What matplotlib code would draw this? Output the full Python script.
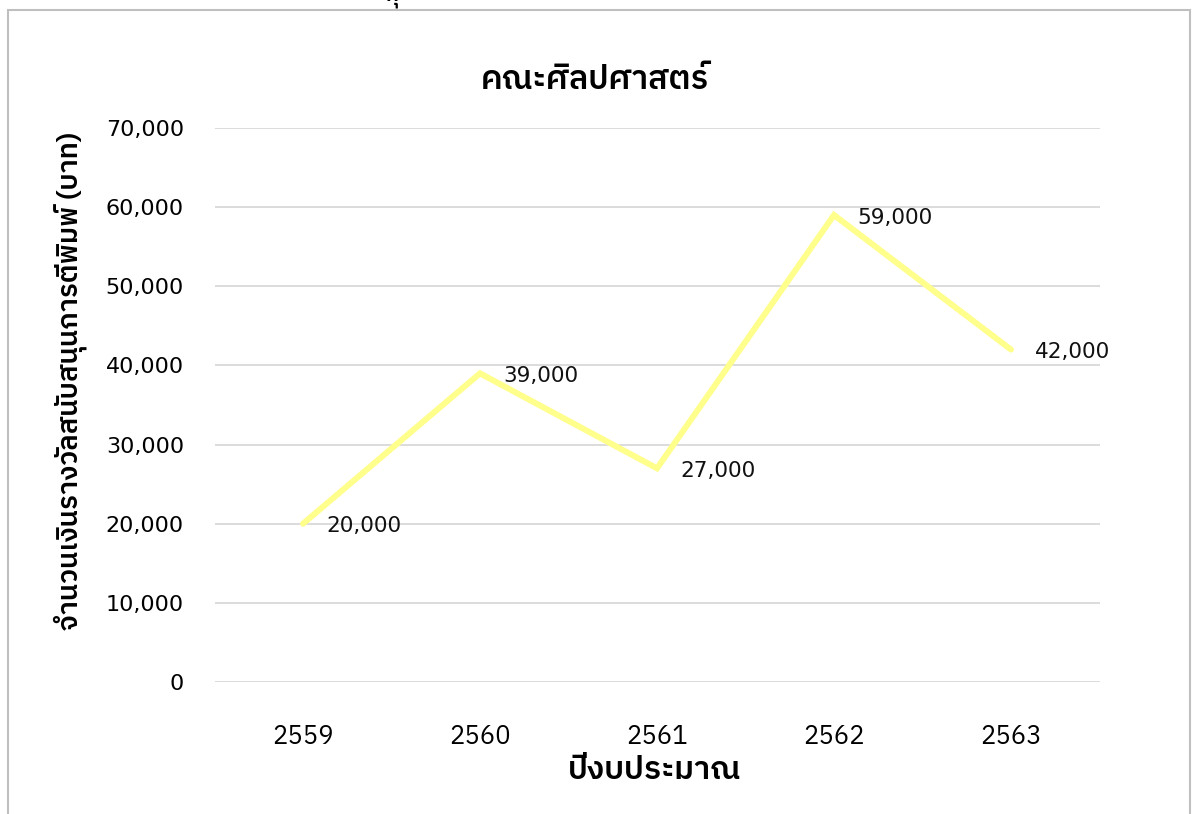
import matplotlib
matplotlib.use("Agg")
import matplotlib.pyplot as plt
from matplotlib.patches import Rectangle

years = ["2559", "2560", "2561", "2562", "2563"]
amounts = [20000, 39000, 27000, 59000, 42000]
yticks = [0, 10000, 20000, 30000, 40000, 50000, 60000, 70000]
title = "คณะศิลปศาสตร์"
xlabel = "ปีงบประมาณ"
ylabel = "จำนวนเงินรางวัลสนับสนุนการตีพิมพ์ (บาท)"

THAI = ["IBM Plex Sans Thai", "Noto Sans Thai", "DejaVu Sans"]
NUM = ["DejaVu Sans"]
plt.rcParams['font.family'] = THAI

fig = plt.figure(figsize=(12, 8.14), dpi=100)
ax = fig.add_axes([214.5 / 1200, 1 - 682 / 814, 885 / 1200, 554 / 814])

xs = list(range(len(years)))
ax.plot(xs, amounts, color="#FFFF8C", lw=4.3, solid_capstyle="round",
        solid_joinstyle="miter", zorder=3)
for x, v in zip(xs, amounts):
    ax.annotate(f"{v:,}", (x, v), xytext=(17, -2), textcoords="offset points",
                ha="left", va="center", fontsize=15.5, color="#111111", family=NUM)

ax.set_xlim(-0.5, len(years) - 0.5)
ax.set_ylim(0, 70000)
ax.set_yticks(yticks)
ax.set_yticklabels([f"{t:,}" for t in yticks], fontsize=16, family=NUM)
ax.set_xticks(xs)
ax.set_xticklabels(years, fontsize=18.5, family=THAI)
ax.tick_params(length=0, pad=22, axis="y")
ax.tick_params(length=0, pad=30, axis="x")
ax.grid(axis="y", color="#D9D9D9", lw=1.3)
ax.set_axisbelow(True)
for s in ax.spines.values():
    s.set_visible(False)

fig.text(595 / 1200, 1 - 80 / 814, title, ha="center", va="center",
         fontsize=23.5, fontweight="semibold")
fig.text(655 / 1200, 1 - 770 / 814, xlabel, ha="center", va="center",
         fontsize=23, fontweight="semibold")
fig.text(70 / 1200, 1 - 381 / 814, ylabel, ha="center", va="center", rotation=90,
         fontsize=20, fontweight="semibold")

fig.patches.append(Rectangle((8 / 1200, -0.1), (1190 - 8) / 1200, 1.1 - 10 / 814,
                             transform=fig.transFigure, fill=False,
                             edgecolor="#BFBFBF", lw=1.5))
fig.text(385 / 1200, 1 - 1 / 814, "ทุ", ha="left", va="baseline", fontsize=15,
         fontweight="semibold")

fig.savefig("out.png", dpi=100)
